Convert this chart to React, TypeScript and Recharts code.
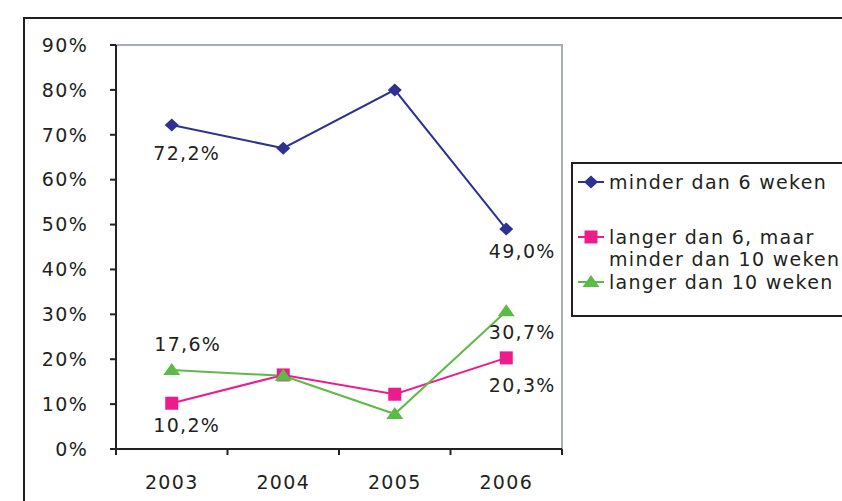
import { LineChart, Line, XAxis, YAxis, ReferenceArea, LabelList } from 'recharts'

const years = ['2003', '2004', '2005', '2006']
const minder6 = [72.2, 67.0, 80.0, 49.0]
const tussen6en10 = [10.2, 16.5, 12.2, 20.3]
const langer10 = [17.6, 16.3, 7.8, 30.7]
const yTicks = [0, 10, 20, 30, 40, 50, 60, 70, 80, 90]

const series = [
  { key: 'minder6', name: 'minder dan 6 weken', color: '#2E3192', shape: 'diamond' },
  { key: 'tussen', name: 'langer dan 6, maar\nminder dan 10 weken', color: '#EC1C8C', shape: 'square' },
  { key: 'langer10', name: 'langer dan 10 weken', color: '#5CBB46', shape: 'triangle' },
]

const data = years.map((year, i) => ({
  year,
  minder6: minder6[i],
  tussen: tussen6en10[i],
  langer10: langer10[i],
}))

const FONT = '"DejaVu Sans", Verdana, sans-serif'
const TEXT = '#231F20'
const FS = 19
const LS = 1.3
const PLOT_W = 446
const BAND = PLOT_W / years.length

// where the value labels sit relative to the first / last point
const labelOffsets: Record<string, [number, number][]> = {
  minder6: [[15, 28], [16, 22]],
  tussen: [[15, 22], [16, 27]],
  langer10: [[16, -26], [16, 21]],
}

const Marker = ({ shape, cx, cy, color }: any) => {
  if (shape === 'diamond') {
    return <polygon points={`${cx},${cy - 6.5} ${cx + 7},${cy} ${cx},${cy + 6.5} ${cx - 7},${cy}`} fill={color} />
  }
  if (shape === 'square') {
    return <rect x={cx - 6.5} y={cy - 6.5} width={13} height={13} fill={color} />
  }
  return <polygon points={`${cx},${cy - 7} ${cx + 8.5},${cy + 5} ${cx - 8.5},${cy + 5}`} fill={color} />
}

const makeDot = (shape: string, color: string) => (props: any) => (
  <Marker key={`${shape}-${props.index}`} shape={shape} cx={props.cx} cy={props.cy} color={color} />
)

const makeLabel = (key: string) => (props: any) => {
  const { x, y, value, index } = props
  const last = years.length - 1
  if (index !== 0 && index !== last) return null
  const [dx, dy] = labelOffsets[key][index === 0 ? 0 : 1]
  return (
    <text x={x + dx} y={y + dy} textAnchor="middle" dominantBaseline="central"
      fontFamily={FONT} fontSize={FS} letterSpacing={LS} fill={TEXT}>
      {`${Number(value).toFixed(1).replace('.', ',')}%`}
    </text>
  )
}

const XTick = (props: any) => {
  const { x, y, payload, index } = props
  const left = x - BAND / 2
  return (
    <g>
      <line x1={left} y1={y - 8} x2={left} y2={y - 2} stroke="#222" strokeWidth={2} />
      {index === years.length - 1 && (
        <line x1={left + BAND} y1={y - 8} x2={left + BAND} y2={y - 2} stroke="#222" strokeWidth={2} />
      )}
      <text x={x} y={y + 25} textAnchor="middle" dominantBaseline="central"
        fontFamily={FONT} fontSize={FS} letterSpacing={LS} fill={TEXT}>
        {payload.value}
      </text>
    </g>
  )
}

const LegendBox = () => (
  <div style={{
    position: 'absolute', left: 571, top: 162, width: 300, height: 155,
    border: '2px solid #231F20', background: '#fff', boxSizing: 'border-box',
    fontFamily: FONT, fontSize: FS, letterSpacing: LS, color: TEXT, paddingTop: 7,
  }}>
    {series.map((s, i) => (
      <div key={s.key} style={{ display: 'flex', alignItems: 'flex-start', marginBottom: i === 0 ? 33 : 1 }}>
        <svg width={36} height={22} style={{ flex: 'none' }}>
          <line x1={5} y1={11} x2={31} y2={11} stroke={s.color} strokeWidth={2} />
          <Marker shape={s.shape} cx={18} cy={11} color={s.color} />
        </svg>
        <div style={{ whiteSpace: 'pre', lineHeight: '22px' }}>{s.name}</div>
      </div>
    ))}
  </div>
)

export default function App() {
  return (
    <div style={{ position: 'absolute', left: 0, top: 0, width: 842, height: 501, overflow: 'hidden', background: '#fff' }}>
      <div style={{
        position: 'absolute', left: 23, top: 17, width: 900, height: 600,
        borderLeft: '2px solid #231F20', borderTop: '2px solid #231F20',
      }} />
      <div style={{ position: 'absolute', left: 0, top: 0 }}>
        <LineChart width={842} height={501} data={data}
          margin={{ top: 45, right: 280, bottom: 22, left: 56 }}>
          <ReferenceArea y1={0} y2={90} fill="none" stroke="#A7AEB5" strokeWidth={2} ifOverflow="visible" />
          <XAxis dataKey="year" scale="band" axisLine={{ stroke: '#222', strokeWidth: 2 }} tickLine={false}
            tick={<XTick />} height={30} interval={0} />
          <YAxis domain={[0, 90]} ticks={yTicks} width={60} tickFormatter={(v) => `${v}%`}
            axisLine={{ stroke: '#222', strokeWidth: 2 }} tickLine={{ stroke: '#222', strokeWidth: 2 }}
            tickSize={6} tickMargin={22}
            tick={{ fontFamily: FONT, fontSize: FS, letterSpacing: LS, fill: TEXT }} />
          {series.map((s) => (
            <Line key={s.key} dataKey={s.key} name={s.name} stroke={s.color} strokeWidth={2}
              dot={makeDot(s.shape, s.color)} activeDot={false} isAnimationActive={false}>
              <LabelList dataKey={s.key} content={makeLabel(s.key)} />
            </Line>
          ))}
        </LineChart>
      </div>
      <LegendBox />
    </div>
  )
}
